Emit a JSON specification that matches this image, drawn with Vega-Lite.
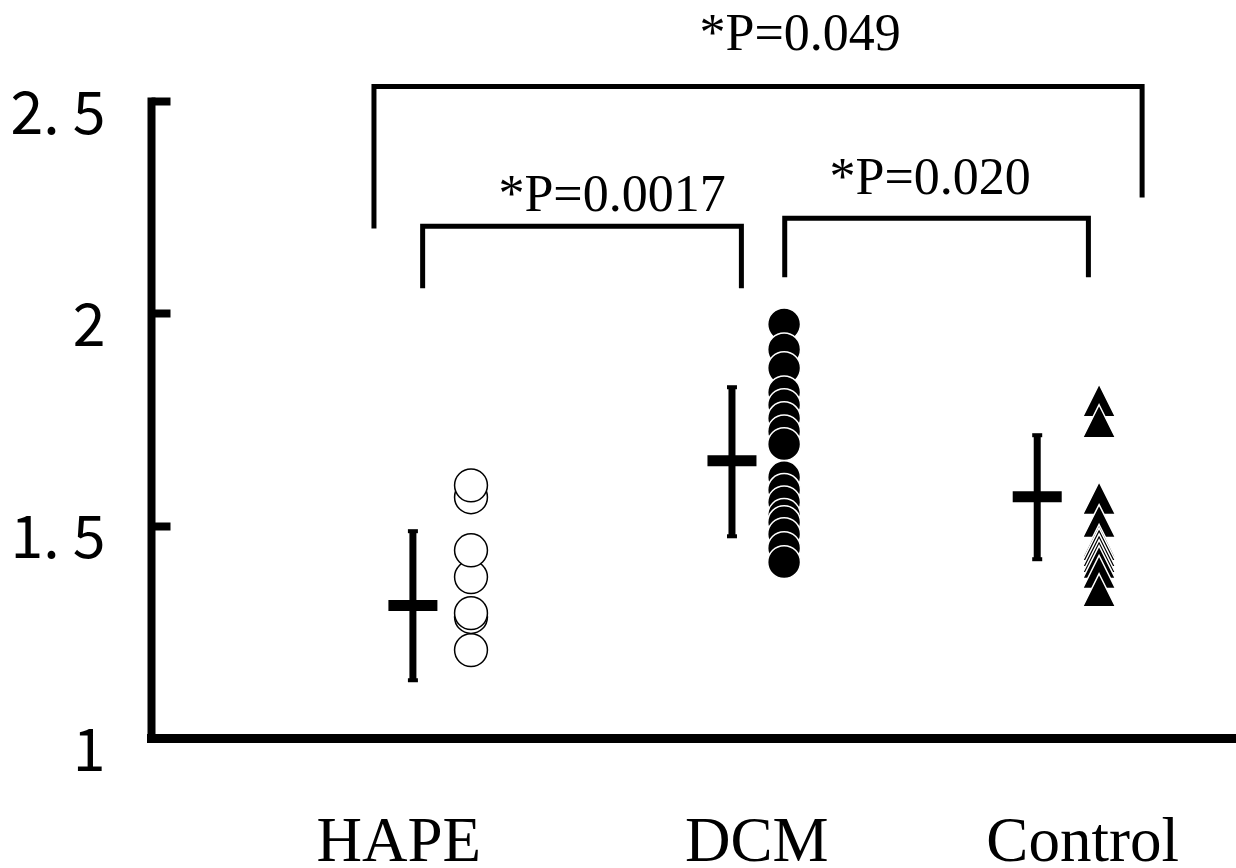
{
  "$schema": "https://vega.github.io/schema/vega-lite/v6.json",
  "autosize": "none",
  "width": 1085,
  "height": 637,
  "padding": {"left": 151, "top": 101, "right": 0, "bottom": 130},
  "background": "white",
  "config": {"view": {"stroke": null}},
  "datasets": {
    "points": [
      {"g": "HAPE", "x": 1.019, "y": 1.207},
      {"g": "HAPE", "x": 1.019, "y": 1.285},
      {"g": "HAPE", "x": 1.019, "y": 1.294},
      {"g": "HAPE", "x": 1.019, "y": 1.379},
      {"g": "HAPE", "x": 1.019, "y": 1.442},
      {"g": "HAPE", "x": 1.019, "y": 1.567},
      {"g": "HAPE", "x": 1.019, "y": 1.595},
      {"g": "DCM", "x": 2.016, "y": 1.974},
      {"g": "DCM", "x": 2.016, "y": 1.915},
      {"g": "DCM", "x": 2.016, "y": 1.871},
      {"g": "DCM", "x": 2.016, "y": 1.814},
      {"g": "DCM", "x": 2.016, "y": 1.784},
      {"g": "DCM", "x": 2.016, "y": 1.753},
      {"g": "DCM", "x": 2.016, "y": 1.722},
      {"g": "DCM", "x": 2.016, "y": 1.692},
      {"g": "DCM", "x": 2.016, "y": 1.614},
      {"g": "DCM", "x": 2.016, "y": 1.584},
      {"g": "DCM", "x": 2.016, "y": 1.555},
      {"g": "DCM", "x": 2.016, "y": 1.525},
      {"g": "DCM", "x": 2.016, "y": 1.508},
      {"g": "DCM", "x": 2.016, "y": 1.48},
      {"g": "DCM", "x": 2.016, "y": 1.447},
      {"g": "DCM", "x": 2.016, "y": 1.414},
      {"g": "Control", "x": 3.019, "y": 1.795},
      {"g": "Control", "x": 3.019, "y": 1.746},
      {"g": "Control", "x": 3.019, "y": 1.565},
      {"g": "Control", "x": 3.019, "y": 1.511},
      {"g": "Control", "x": 3.019, "y": 1.464},
      {"g": "Control", "x": 3.019, "y": 1.456},
      {"g": "Control", "x": 3.019, "y": 1.442},
      {"g": "Control", "x": 3.019, "y": 1.428},
      {"g": "Control", "x": 3.019, "y": 1.414},
      {"g": "Control", "x": 3.019, "y": 1.391},
      {"g": "Control", "x": 3.019, "y": 1.348}
    ],
    "means": [
      {"g": "HAPE", "x": 0.834, "y": 1.312, "lo": 1.136, "hi": 1.487},
      {"g": "DCM", "x": 1.85, "y": 1.653, "lo": 1.475, "hi": 1.826},
      {"g": "Control", "x": 2.822, "y": 1.568, "lo": 1.421, "hi": 1.713}
    ],
    "brackets": [
      {"b": "HAPE-Control", "i": 0, "x": 0.71, "y": 2.2},
      {"b": "HAPE-Control", "i": 1, "x": 0.71, "y": 2.534},
      {"b": "HAPE-Control", "i": 2, "x": 3.156, "y": 2.534},
      {"b": "HAPE-Control", "i": 3, "x": 3.156, "y": 2.273},
      {"b": "HAPE-DCM", "i": 0, "x": 0.865, "y": 2.059},
      {"b": "HAPE-DCM", "i": 1, "x": 0.865, "y": 2.205},
      {"b": "HAPE-DCM", "i": 2, "x": 1.88, "y": 2.205},
      {"b": "HAPE-DCM", "i": 3, "x": 1.88, "y": 2.059},
      {"b": "DCM-Control", "i": 0, "x": 2.018, "y": 2.085},
      {"b": "DCM-Control", "i": 1, "x": 2.018, "y": 2.224},
      {"b": "DCM-Control", "i": 2, "x": 2.985, "y": 2.224},
      {"b": "DCM-Control", "i": 3, "x": 2.985, "y": 2.085}
    ],
    "labels": [
      {"text": "*P=0.049", "x": 2.067, "y": 2.619},
      {"text": "*P=0.0017", "x": 1.468, "y": 2.242},
      {"text": "*P=0.020", "x": 2.481, "y": 2.282}
    ]
  },
  "encoding": {
    "x": {
      "field": "x",
      "type": "quantitative",
      "scale": {"domain": [0, 3.455], "nice": false, "zero": false},
      "axis": {
        "title": null,
        "grid": false,
        "values": [0.787, 1.927, 2.965],
        "labelExpr": "datum.value < 1.5 ? 'HAPE' : datum.value < 2.5 ? 'DCM' : 'Control'",
        "ticks": false,
        "domain": true,
        "domainWidth": 9,
        "domainColor": "black",
        "domainCap": "square",
        "labelFont": "Liberation Serif",
        "labelFontSize": 63,
        "labelColor": "black",
        "labelBaseline": "alphabetic",
        "labelPadding": 122,
        "labelLimit": 0,
        "labelFlush": false,
        "labelOverlap": false
      }
    },
    "y": {
      "field": "y",
      "type": "quantitative",
      "scale": {"domain": [1, 2.5], "nice": false, "zero": false},
      "axis": {
        "title": null,
        "grid": false,
        "values": [1, 1.5, 2, 2.5],
        "labelExpr": "datum.value == 2.5 ? '2. 5' : datum.value == 1.5 ? '1. 5' : datum.value == 2 ? '2' : '1'",
        "domain": true,
        "domainWidth": 8,
        "domainColor": "black",
        "domainCap": "square",
        "ticks": true,
        "tickSize": -19,
        "tickWidth": 8,
        "tickColor": "black",
        "labelFont": "Noto Sans CJK JP",
        "labelFontSize": 59,
        "labelColor": "black",
        "labelAlign": "right",
        "labelBaseline": "middle",
        "labelOffset": 14,
        "labelPadding": 65,
        "labelLimit": 0,
        "labelFlush": false,
        "labelOverlap": false
      }
    }
  },
  "layer": [
    {
      "data": {"name": "brackets"},
      "mark": {"type": "line", "color": "black", "strokeWidth": 5, "strokeJoin": "miter", "strokeCap": "butt"},
      "encoding": {
        "detail": {"field": "b"},
        "order": {"field": "i", "type": "quantitative"}
      }
    },
    {
      "data": {"name": "labels"},
      "mark": {"type": "text", "font": "Liberation Serif", "fontSize": 52, "color": "black", "align": "center", "baseline": "alphabetic"},
      "encoding": {"text": {"field": "text"}}
    },
    {
      "data": {"name": "means"},
      "mark": {"type": "rule", "color": "black", "strokeWidth": 7},
      "encoding": {"y": {"field": "lo", "type": "quantitative"}, "y2": {"field": "hi"}}
    },
    {
      "data": {"name": "means"},
      "mark": {"type": "tick", "orient": "horizontal", "color": "black", "size": 10, "thickness": 4, "opacity": 1},
      "encoding": {"y": {"field": "lo", "type": "quantitative"}}
    },
    {
      "data": {"name": "means"},
      "mark": {"type": "tick", "orient": "horizontal", "color": "black", "size": 10, "thickness": 4, "opacity": 1},
      "encoding": {"y": {"field": "hi", "type": "quantitative"}}
    },
    {
      "data": {"name": "means"},
      "mark": {"type": "tick", "orient": "horizontal", "color": "black", "size": 49, "thickness": 11, "opacity": 1}
    },
    {
      "data": {"name": "points"},
      "mark": {"type": "point", "filled": true, "size": 1080, "strokeWidth": 1.5, "opacity": 1},
      "encoding": {
        "shape": {"field": "g", "type": "nominal", "scale": {"domain": ["HAPE", "DCM", "Control"], "range": ["circle", "circle", "M0,-1L1,1L-1,1Z"]}, "legend": null},
        "fill": {"field": "g", "type": "nominal", "scale": {"domain": ["HAPE", "DCM", "Control"], "range": ["white", "black", "black"]}, "legend": null},
        "stroke": {"field": "g", "type": "nominal", "scale": {"domain": ["HAPE", "DCM", "Control"], "range": ["black", "white", "white"]}, "legend": null}
      }
    }
  ]
}
